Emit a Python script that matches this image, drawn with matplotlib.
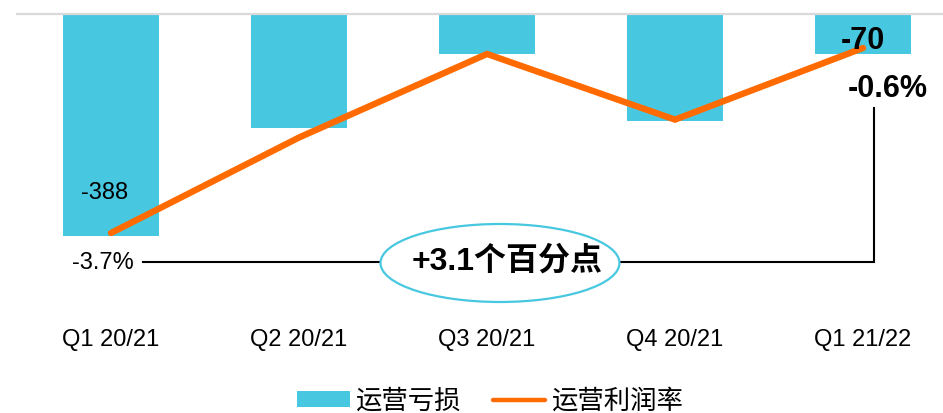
import matplotlib
matplotlib.use("Agg")
import matplotlib.pyplot as plt
from matplotlib.patches import Ellipse, Patch
from matplotlib.lines import Line2D

# ---- data ----
quarters = ["Q1 20/21", "Q2 20/21", "Q3 20/21", "Q4 20/21", "Q1 21/22"]
op_loss = [-388, -200, -70, -187, -70]          # 运营亏损
op_margin = [-3.7, -2.1, -0.7, -1.8, -0.6]      # 运营利润率 (%)
legend_labels = ["运营亏损", "运营利润率"]
change_label = "+3.1个百分点"

BAR = "#48C8E0"
ORANGE = "#FF6B00"
LATIN = ["Liberation Sans", "Noto Sans CJK SC", "DejaVu Sans"]
CJK = ["Noto Sans CJK SC", "Liberation Sans", "DejaVu Sans"]

W, H = 943, 413
fig = plt.figure(figsize=(W / 100, H / 100), dpi=100)
ax_l, ax_r, ax_t, ax_b = 17, 957, 14, 300
ax = fig.add_axes([ax_l / W, 1 - ax_b / H, (ax_r - ax_l) / W, (ax_b - ax_t) / H])

x = list(range(len(quarters)))
ax.bar(x, op_loss, width=0.51, color=BAR, zorder=2)
ax.set_xlim(-0.5, len(quarters) - 0.5)
ax.set_ylim(-499.8, 0)
for s in ["left", "right", "bottom"]:
    ax.spines[s].set_visible(False)
ax.spines["top"].set_color("#D9D9D9")
ax.spines["top"].set_linewidth(1.6)
ax.set_yticks([])
ax.set_xticks(x)
ax.set_xticklabels(quarters, fontsize=17, family=LATIN, color="black")
ax.tick_params(axis="x", length=0, pad=21)

ax2 = ax.twinx()
ax2.set_ylim(-4.8226, -0.0303)
ax2.set_yticks([])
for s in ax2.spines.values():
    s.set_visible(False)
ax2.plot(x, op_margin, color=ORANGE, lw=4.6, solid_capstyle="round",
         solid_joinstyle="miter", zorder=3)

# bar value labels
ax2.annotate(f"{op_loss[0]}", xy=(x[0], op_loss[0]), xycoords=ax.transData,
             xytext=(-4.3, 31), textcoords="offset points", ha="center", va="center",
             fontsize=17, family=LATIN, color="black")
ax2.annotate(f"{op_loss[-1]}", xy=(x[-1], op_loss[-1]), xycoords=ax.transData,
             xytext=(0, 9.5), textcoords="offset points", ha="center", va="center",
             fontsize=22, family=LATIN, fontweight="bold", color="black", zorder=5)

# margin labels
ax2.annotate(f"{op_margin[0]}%", xy=(x[0], op_margin[0]),
             xytext=(-6, -21.6), textcoords="offset points", ha="center", va="center",
             fontsize=17, family=LATIN, color="black")
ax2.annotate(f"{op_margin[-1]}%", xy=(x[-1], op_margin[-1]),
             xytext=(18, -29.5), textcoords="offset points", ha="center", va="center",
             fontsize=22, family=LATIN, fontweight="bold", color="black")

# bracket line
y_br = op_margin[0] - 0.486
x_start = x[0] + 0.17
x_end = x[-1] + 0.058
y_top = op_margin[-1] - 1.005
ax2.plot([x_start, x_end, x_end], [y_br, y_br, y_top], color="black", lw=1.5,
         zorder=2, solid_joinstyle="miter")

# ellipse + change text
ell = Ellipse((0.5138, 0.1294), width=239 / 940, height=78 / 286, transform=ax2.transAxes,
              facecolor="white", edgecolor=BAR, lw=1.6, zorder=4, clip_on=False)
ax2.add_patch(ell)
ax2.text(0.5213, 0.137, change_label, transform=ax2.transAxes, ha="center", va="center",
         fontsize=23, fontweight="bold", family=LATIN, color="black", zorder=5)

# legend
handles = [Patch(facecolor=BAR, edgecolor="none"),
           Line2D([0], [0], color=ORANGE, lw=3.2, solid_capstyle="round")]
leg = fig.legend(handles, legend_labels, loc="center", bbox_to_anchor=(490 / W, 12 / H),
                 ncol=2, frameon=False, prop={"family": CJK, "size": 19},
                 handlelength=2.0, handleheight=0.53, handletextpad=0.2,
                 columnspacing=1.2, borderpad=0, borderaxespad=0)

fig.savefig("out.png", dpi=100)
